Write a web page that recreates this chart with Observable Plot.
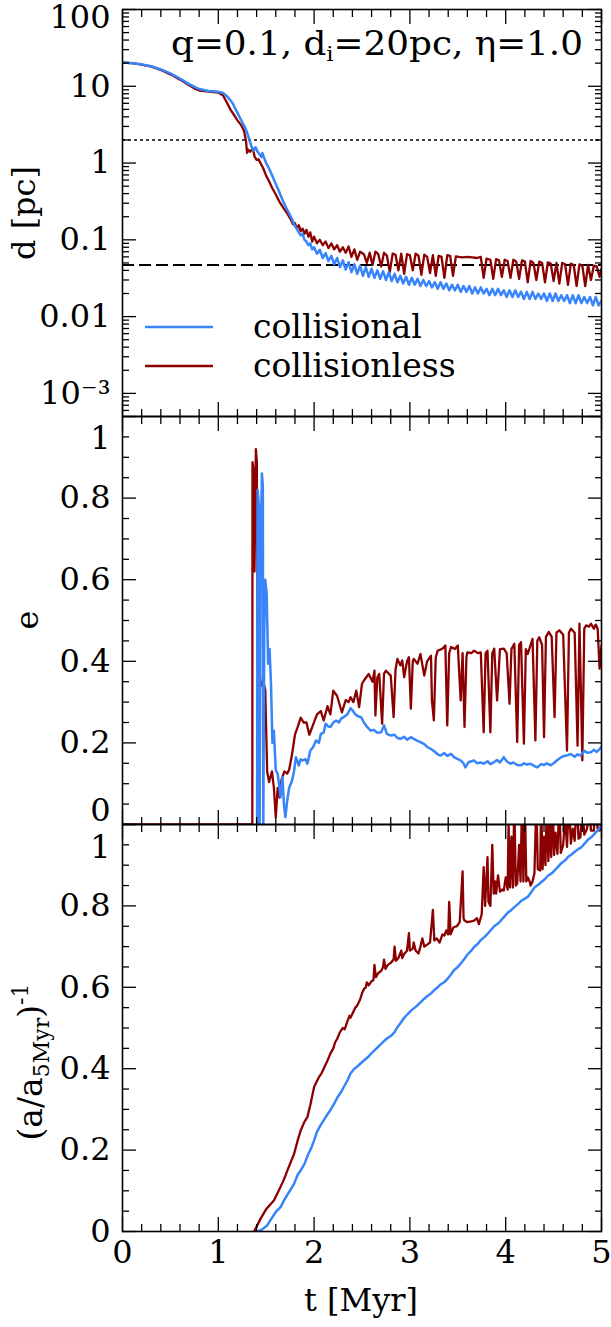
<!DOCTYPE html>
<html><head><meta charset="utf-8">
<script src="https://cdn.jsdelivr.net/npm/d3@7"></script>
<script src="https://cdn.jsdelivr.net/npm/@observablehq/plot@0.6"></script>
<style>
body{margin:0;background:#fff;}
#chart{position:relative;width:611px;height:1327px;font-family:"DejaVu Serif",serif;}
#chart svg{position:absolute;left:0;overflow:visible;}
</style></head><body><div id="chart"></div>
<script>
// ---------- data ----------
const seriesNames = ["collisional", "collisionless"];
const seriesColors = ["#3784fb", "#8b0000"];
const titleParts = ["q=0.1, d", "i", "=20pc, η=1.0"];
const xTickValues = [0, 1, 2, 3, 4, 5];
const xTickLabels = ["0", "1", "2", "3", "4", "5"];
const dTickValues = [0.001, 0.01, 0.1, 1, 10, 100];
const dTickLabels = ["10⁻³", "0.01", "0.1", "1", "10", "100"];
const linTickValues = [0, 0.2, 0.4, 0.6, 0.8, 1];
const linTickLabels = ["0", "0.2", "0.4", "0.6", "0.8", "1"];
const refLevels = [2.0, 0.047]; // dotted, dashed

// d [pc] vs t
const dColl = [[0,20.4],[0.1,20.0],[0.2,19.3],[0.3,18.2],[0.4,16.6],[0.5,14.7],[0.6,12.6],[0.7,10.6],[0.8,9.2],[0.9,8.7],[1.0,8.5],[1.05,8.2],[1.1,7.2],[1.15,6.0],[1.2,4.5],[1.25,3.4],[1.28,2.9],[1.31,2.3],[1.33,1.9],[1.35,1.6],[1.37,1.45],[1.39,1.6],[1.41,1.4],[1.43,1.3],[1.45,1.2],[1.46,1.35],[1.48,1.15],[1.50,1.0],[1.53,0.85],[1.56,0.7],[1.59,0.57],[1.62,0.47],[1.65,0.38],[1.68,0.31],[1.71,0.26],[1.74,0.22],[1.77,0.185],[1.80,0.15],[1.82,0.14],[1.84,0.125],[1.86,0.115],[1.88,0.12],[1.90,0.1],[1.92,0.095],[1.94,0.085],[1.96,0.09],[1.98,0.075],[2.00,0.08],[2.03,0.066],[2.06,0.074],[2.09,0.058],[2.12,0.067],[2.15,0.053],[2.18,0.062],[2.21,0.048],[2.24,0.058],[2.27,0.044],[2.30,0.054],[2.33,0.041],[2.36,0.051],[2.39,0.038],[2.42,0.048],[2.45,0.036],[2.48,0.046],[2.51,0.034],[2.54,0.044],[2.57,0.033],[2.60,0.042],[2.63,0.032],[2.66,0.04],[2.69,0.031],[2.72,0.039],[2.75,0.030],[2.78,0.038],[2.81,0.029],[2.84,0.036],[2.87,0.028],[2.90,0.034],[2.93,0.027],[2.96,0.033],[2.99,0.026],[3.02,0.032],[3.05,0.026],[3.08,0.031],[3.11,0.025],[3.14,0.030],[3.17,0.025],[3.20,0.029],[3.23,0.024],[3.26,0.028],[3.29,0.023],[3.32,0.028],[3.35,0.023],[3.38,0.027],[3.41,0.022],[3.44,0.026],[3.47,0.022],[3.50,0.026],[3.53,0.021],[3.56,0.025],[3.59,0.021],[3.62,0.025],[3.65,0.020],[3.68,0.024],[3.71,0.020],[3.74,0.024],[3.77,0.020],[3.80,0.023],[3.83,0.019],[3.86,0.023],[3.89,0.019],[3.92,0.023],[3.95,0.019],[3.98,0.022],[4.01,0.018],[4.04,0.022],[4.07,0.018],[4.10,0.022],[4.13,0.018],[4.16,0.021],[4.19,0.017],[4.22,0.021],[4.25,0.017],[4.28,0.021],[4.31,0.017],[4.34,0.020],[4.37,0.017],[4.40,0.020],[4.43,0.016],[4.46,0.020],[4.49,0.016],[4.52,0.020],[4.55,0.016],[4.58,0.019],[4.61,0.016],[4.64,0.019],[4.67,0.015],[4.70,0.019],[4.73,0.015],[4.76,0.019],[4.79,0.015],[4.82,0.018],[4.85,0.015],[4.88,0.018],[4.91,0.014],[4.94,0.018],[4.97,0.014],[5.00,0.016]];
const dCless = [[0,20.4],[0.1,20.0],[0.2,19.2],[0.3,18.0],[0.4,16.3],[0.5,14.3],[0.6,12.2],[0.7,10.2],[0.75,9.4],[0.8,8.8],[0.9,8.5],[1.0,8.3],[1.05,7.6],[1.1,5.8],[1.13,4.9],[1.16,4.3],[1.2,3.6],[1.24,3.1],[1.27,2.6],[1.29,1.9],[1.30,1.36],[1.31,1.5],[1.33,1.4],[1.36,1.55],[1.38,1.2],[1.40,1.1],[1.42,1.12],[1.44,1.0],[1.47,0.85],[1.50,0.68],[1.53,0.58],[1.56,0.48],[1.60,0.39],[1.64,0.31],[1.68,0.26],[1.72,0.22],[1.76,0.18],[1.78,0.16],[1.80,0.165],[1.82,0.14],[1.84,0.155],[1.86,0.13],[1.88,0.14],[1.90,0.12],[1.92,0.135],[1.94,0.11],[1.96,0.125],[1.98,0.095],[2.00,0.11],[2.03,0.09],[2.06,0.10],[2.09,0.085],[2.12,0.095],[2.15,0.078],[2.18,0.09],[2.21,0.075],[2.24,0.085],[2.27,0.07],[2.30,0.08],[2.33,0.068],[2.36,0.082],[2.39,0.06],[2.42,0.075],[2.45,0.055],[2.48,0.07],[2.52,0.065],[2.55,0.05],[2.58,0.068],[2.61,0.047],[2.64,0.07],[2.67,0.065],[2.70,0.045],[2.73,0.068],[2.76,0.062],[2.79,0.038],[2.82,0.066],[2.85,0.064],[2.88,0.04],[2.91,0.066],[2.94,0.036],[2.97,0.065],[3.00,0.063],[3.03,0.04],[3.06,0.066],[3.09,0.062],[3.12,0.035],[3.15,0.064],[3.18,0.06],[3.21,0.037],[3.24,0.063],[3.27,0.034],[3.30,0.062],[3.33,0.06],[3.36,0.032],[3.39,0.063],[3.42,0.062],[3.45,0.034],[3.48,0.061],[3.51,0.06],[3.55,0.059],[3.60,0.06],[3.65,0.059],[3.70,0.058],[3.74,0.06],[3.77,0.032],[3.80,0.057],[3.84,0.055],[3.87,0.031],[3.90,0.056],[3.93,0.054],[3.96,0.033],[3.99,0.055],[4.02,0.053],[4.05,0.032],[4.08,0.055],[4.11,0.052],[4.14,0.031],[4.17,0.054],[4.20,0.052],[4.23,0.028],[4.26,0.053],[4.29,0.05],[4.32,0.03],[4.35,0.052],[4.38,0.05],[4.41,0.028],[4.44,0.051],[4.47,0.049],[4.50,0.029],[4.53,0.05],[4.56,0.027],[4.59,0.05],[4.62,0.048],[4.65,0.026],[4.68,0.049],[4.71,0.047],[4.74,0.025],[4.77,0.048],[4.80,0.046],[4.83,0.025],[4.86,0.047],[4.89,0.03],[4.92,0.046],[4.95,0.045],[4.98,0.033],[5.00,0.042]];

// e vs t
const eColl = [[1.405,0],[1.41,0.82],[1.425,0.78],[1.432,0.0],[1.44,0.6],[1.455,0.86],[1.465,0.83],[1.47,0.0],[1.48,0.48],[1.49,0.6],[1.505,0.566],[1.52,0.394],[1.535,0.43],[1.55,0.345],[1.565,0.2],[1.58,0.23],[1.60,0.133],[1.62,0.124],[1.65,0.067],[1.67,0.116],[1.685,0.05],[1.70,0.018],[1.72,0.06],[1.74,0.09],[1.77,0.108],[1.79,0.13],[1.81,0.165],[1.84,0.145],[1.86,0.16],[1.88,0.157],[1.91,0.16],[1.93,0.149],[1.96,0.181],[1.99,0.19],[2.02,0.206],[2.05,0.20],[2.07,0.222],[2.10,0.225],[2.12,0.247],[2.15,0.24],[2.17,0.239],[2.20,0.25],[2.23,0.255],[2.26,0.25],[2.28,0.259],[2.32,0.265],[2.35,0.271],[2.38,0.285],[2.40,0.28],[2.43,0.27],[2.46,0.265],[2.49,0.263],[2.52,0.25],[2.55,0.24],[2.59,0.23],[2.62,0.232],[2.66,0.225],[2.70,0.226],[2.73,0.243],[2.76,0.222],[2.80,0.218],[2.84,0.22],[2.87,0.212],[2.90,0.21],[2.94,0.215],[2.97,0.208],[3.01,0.214],[3.04,0.21],[3.08,0.205],[3.11,0.202],[3.15,0.197],[3.18,0.19],[3.22,0.185],[3.25,0.18],[3.29,0.172],[3.32,0.169],[3.36,0.175],[3.39,0.168],[3.43,0.173],[3.46,0.165],[3.50,0.16],[3.53,0.157],[3.56,0.15],[3.58,0.14],[3.61,0.152],[3.64,0.155],[3.67,0.157],[3.70,0.15],[3.74,0.152],[3.77,0.149],[3.81,0.155],[3.84,0.148],[3.88,0.153],[3.91,0.158],[3.94,0.152],[3.98,0.165],[4.01,0.155],[4.05,0.149],[4.08,0.152],[4.12,0.146],[4.16,0.145],[4.19,0.15],[4.22,0.147],[4.26,0.149],[4.30,0.143],[4.33,0.14],[4.37,0.148],[4.40,0.146],[4.43,0.15],[4.47,0.145],[4.50,0.15],[4.54,0.158],[4.58,0.165],[4.61,0.168],[4.65,0.17],[4.68,0.173],[4.72,0.166],[4.75,0.172],[4.78,0.169],[4.82,0.181],[4.85,0.176],[4.89,0.177],[4.92,0.183],[4.95,0.178],[4.98,0.185],[5.0,0.19]];
const eCless = [[0,0],[1.355,0],[1.357,0.888],[1.368,0.87],[1.378,0.62],[1.392,0.92],[1.402,0.89],[1.412,0.40],[1.425,0.58],[1.435,0.36],[1.45,0.34],[1.47,0.35],[1.49,0.33],[1.51,0.13],[1.53,0.104],[1.56,0.13],[1.58,0.091],[1.60,0.018],[1.62,0.09],[1.64,0.066],[1.66,0.11],[1.69,0.13],[1.72,0.125],[1.74,0.135],[1.77,0.172],[1.80,0.22],[1.83,0.24],[1.86,0.262],[1.89,0.25],[1.92,0.25],[1.95,0.22],[1.99,0.245],[2.03,0.27],[2.07,0.278],[2.10,0.255],[2.14,0.29],[2.17,0.27],[2.20,0.328],[2.24,0.315],[2.29,0.275],[2.33,0.305],[2.36,0.30],[2.38,0.312],[2.41,0.30],[2.44,0.328],[2.47,0.288],[2.50,0.345],[2.52,0.353],[2.57,0.369],[2.61,0.35],[2.63,0.377],[2.64,0.267],[2.66,0.36],[2.68,0.369],[2.71,0.247],[2.73,0.37],[2.75,0.377],[2.80,0.365],[2.83,0.263],[2.85,0.38],[2.87,0.406],[2.90,0.39],[2.92,0.402],[2.94,0.361],[2.97,0.40],[2.99,0.41],[3.01,0.284],[3.03,0.40],[3.04,0.406],[3.08,0.394],[3.11,0.418],[3.15,0.365],[3.18,0.40],[3.22,0.414],[3.23,0.304],[3.25,0.255],[3.27,0.41],[3.29,0.426],[3.34,0.431],[3.37,0.439],[3.39,0.243],[3.41,0.42],[3.43,0.435],[3.47,0.43],[3.50,0.439],[3.53,0.304],[3.55,0.42],[3.57,0.239],[3.59,0.41],[3.60,0.422],[3.64,0.42],[3.67,0.426],[3.71,0.42],[3.74,0.422],[3.77,0.226],[3.79,0.42],[3.81,0.426],[3.84,0.226],[3.86,0.42],[3.88,0.431],[3.91,0.304],[3.94,0.43],[3.98,0.431],[4.01,0.42],[4.04,0.296],[4.06,0.43],[4.09,0.443],[4.12,0.202],[4.14,0.44],[4.16,0.447],[4.19,0.198],[4.21,0.43],[4.23,0.418],[4.26,0.44],[4.28,0.455],[4.31,0.206],[4.33,0.45],[4.35,0.459],[4.38,0.44],[4.40,0.214],[4.42,0.46],[4.45,0.472],[4.48,0.46],[4.51,0.263],[4.53,0.47],[4.56,0.476],[4.60,0.465],[4.64,0.181],[4.66,0.47],[4.68,0.48],[4.72,0.47],[4.75,0.193],[4.77,0.492],[4.80,0.157],[4.82,0.48],[4.84,0.488],[4.87,0.485],[4.89,0.492],[4.92,0.48],[4.94,0.49],[4.96,0.48],[4.98,0.382],[5.0,0.44]];

// (a/a_5Myr)^-1 vs t
const aColl = [[1.41,0],[1.45,0.004],[1.51,0.015],[1.55,0.03],[1.60,0.048],[1.65,0.06],[1.69,0.078],[1.72,0.09],[1.76,0.105],[1.79,0.117],[1.83,0.14],[1.86,0.15],[1.90,0.166],[1.93,0.185],[1.97,0.205],[2.00,0.224],[2.03,0.245],[2.07,0.262],[2.10,0.273],[2.14,0.288],[2.17,0.298],[2.21,0.314],[2.24,0.328],[2.28,0.342],[2.31,0.355],[2.35,0.372],[2.38,0.388],[2.42,0.40],[2.45,0.405],[2.49,0.414],[2.52,0.42],[2.56,0.428],[2.59,0.436],[2.63,0.445],[2.66,0.452],[2.70,0.461],[2.73,0.468],[2.77,0.476],[2.80,0.48],[2.84,0.49],[2.87,0.502],[2.91,0.515],[2.94,0.525],[2.98,0.535],[3.01,0.542],[3.05,0.55],[3.08,0.556],[3.11,0.563],[3.15,0.572],[3.18,0.578],[3.22,0.585],[3.25,0.592],[3.29,0.60],[3.32,0.607],[3.36,0.613],[3.39,0.62],[3.43,0.632],[3.46,0.642],[3.50,0.65],[3.53,0.658],[3.57,0.67],[3.60,0.68],[3.64,0.69],[3.67,0.699],[3.71,0.707],[3.74,0.716],[3.78,0.724],[3.81,0.731],[3.85,0.742],[3.88,0.75],[3.92,0.757],[3.95,0.764],[3.99,0.775],[4.02,0.783],[4.06,0.79],[4.09,0.797],[4.13,0.805],[4.16,0.812],[4.20,0.818],[4.23,0.822],[4.27,0.835],[4.30,0.845],[4.34,0.852],[4.37,0.858],[4.41,0.866],[4.44,0.874],[4.48,0.88],[4.51,0.887],[4.55,0.897],[4.58,0.905],[4.62,0.912],[4.65,0.92],[4.69,0.927],[4.72,0.933],[4.76,0.94],[4.79,0.944],[4.83,0.955],[4.86,0.963],[4.90,0.97],[4.93,0.978],[4.97,0.988],[5.0,0.995]];
const aCless = [[1.374,0],[1.40,0.012],[1.44,0.031],[1.50,0.055],[1.55,0.068],[1.58,0.076],[1.63,0.1],[1.68,0.125],[1.73,0.155],[1.79,0.19],[1.83,0.225],[1.86,0.248],[1.90,0.27],[1.93,0.281],[1.96,0.31],[2.00,0.355],[2.03,0.37],[2.05,0.379],[2.08,0.39],[2.10,0.40],[2.14,0.42],[2.17,0.437],[2.20,0.45],[2.22,0.465],[2.24,0.473],[2.27,0.49],[2.30,0.50],[2.32,0.497],[2.35,0.518],[2.37,0.53],[2.38,0.525],[2.41,0.54],[2.43,0.55],[2.45,0.555],[2.48,0.57],[2.50,0.585],[2.52,0.596],[2.54,0.60],[2.55,0.612],[2.57,0.605],[2.60,0.615],[2.62,0.618],[2.63,0.655],[2.645,0.625],[2.67,0.635],[2.70,0.64],[2.72,0.65],[2.73,0.668],[2.745,0.645],[2.77,0.655],[2.80,0.66],[2.83,0.668],[2.84,0.70],[2.855,0.665],[2.88,0.672],[2.91,0.69],[2.92,0.672],[2.94,0.682],[2.97,0.69],[2.99,0.733],[3.00,0.69],[3.03,0.695],[3.04,0.71],[3.06,0.69],[3.09,0.683],[3.11,0.70],[3.13,0.72],[3.15,0.70],[3.18,0.705],[3.21,0.71],[3.24,0.79],[3.255,0.715],[3.28,0.72],[3.31,0.71],[3.34,0.73],[3.36,0.727],[3.38,0.74],[3.40,0.73],[3.41,0.81],[3.425,0.73],[3.45,0.745],[3.46,0.748],[3.49,0.75],[3.52,0.76],[3.55,0.885],[3.56,0.77],[3.57,0.764],[3.60,0.76],[3.64,0.762],[3.67,0.764],[3.70,0.77],[3.72,0.755],[3.75,0.78],[3.77,0.895],[3.785,0.80],[3.81,0.92],[3.82,0.81],[3.84,0.80],[3.86,0.95],[3.875,0.83],[3.89,0.86],[3.90,0.83],[3.92,0.875],[3.94,0.835],[3.96,0.84],[3.98,0.838],[4.00,0.87],[4.02,0.84],[4.03,1.0],[4.045,0.845],[4.06,0.97],[4.075,0.845],[4.09,1.06],[4.105,0.85],[4.12,0.855],[4.14,0.95],[4.155,0.86],[4.17,1.06],[4.185,0.86],[4.20,1.06],[4.215,0.86],[4.23,0.87],[4.25,0.86],[4.26,0.85],[4.28,0.86],[4.30,0.88],[4.32,1.06],[4.335,0.89],[4.36,0.887],[4.37,1.06],[4.385,0.89],[4.40,0.97],[4.415,0.9],[4.43,1.06],[4.445,0.91],[4.46,1.0],[4.475,0.92],[4.49,1.06],[4.505,0.925],[4.52,0.98],[4.54,0.928],[4.56,1.06],[4.575,0.93],[4.60,0.95],[4.62,1.02],[4.64,0.945],[4.66,1.06],[4.68,0.953],[4.70,0.99],[4.72,0.96],[4.74,1.06],[4.76,0.965],[4.78,0.969],[4.80,1.06],[4.82,0.975],[4.85,0.99],[4.87,1.06],[4.89,0.985],[4.92,0.985],[4.94,1.06],[4.96,0.99],[4.98,0.985],[5.0,1.0]];

// ---------- layout ----------
const FONT = "DejaVu Serif";
const W = 611, ML = 122, MR = 10;
const xMinor = d3.range(0, 5.0001, 0.2).filter(v => Math.abs(v - Math.round(v)) > 1e-6);
const logMinor = [];
for (const p of [1e-4, 1e-3, 1e-2, 1e-1, 1, 10]) for (let m = 2; m <= 9; m++) { const v = p * m; if (v > 5e-4 && v < 100) logMinor.push(v); }
const linMinor = d3.range(0, 1.0001, 0.05).filter(v => Math.abs(v * 5 - Math.round(v * 5)) > 1e-6);

const chart = document.getElementById("chart");

function lineMarks(coll, cless) {
  return [
    Plot.line(cless, {x: d => d[0], y: d => d[1], stroke: seriesColors[1], strokeWidth: 2.3, clip: true}),
    Plot.line(coll, {x: d => d[0], y: d => d[1], stroke: seriesColors[0], strokeWidth: 2.5, clip: true})
  ];
}

function tickMarks(yMajor, yMinor) {
  const o = {tickFormat: () => "", label: null, strokeWidth: 1.3, stroke: "black"};
  return [
    Plot.axisX(xTickValues, {...o, anchor: "bottom", tickSize: -14}),
    Plot.axisX(xMinor, {...o, anchor: "bottom", tickSize: -7}),
    Plot.axisX(xTickValues, {...o, anchor: "top", tickSize: -14}),
    Plot.axisX(xMinor, {...o, anchor: "top", tickSize: -7}),
    Plot.axisY(yMajor, {...o, anchor: "left", tickSize: -14}),
    Plot.axisY(yMinor, {...o, anchor: "left", tickSize: -7}),
    Plot.axisY(yMajor, {...o, anchor: "right", tickSize: -14}),
    Plot.axisY(yMinor, {...o, anchor: "right", tickSize: -7})
  ];
}

function edgeLabel(value, text, dy) {
  return Plot.text([{v: value, s: text}], {y: "v", text: "s", frameAnchor: "left", textAnchor: "end", dx: -12, dy, fontSize: 32, fontFamily: FONT});
}

function addPlot(top, opts) {
  const svg = Plot.plot({
    width: W, marginLeft: ML, marginRight: MR,
    style: {fontFamily: FONT, fontSize: "32px", background: "transparent", overflow: "visible", color: "black"},
    x: {domain: [0, 5]},
    ...opts
  });
  svg.style.top = top + "px";
  chart.appendChild(svg);
  return svg;
}

// Panel 1: d [pc] (log)
addPlot(0, {
  height: 426, marginTop: 9, marginBottom: 10,
  y: {type: "log", domain: [5e-4, 100]},
  marks: [
    Plot.ruleY([refLevels[0]], {stroke: "black", strokeWidth: 1.6, strokeDasharray: "3,3"}),
    Plot.ruleY([refLevels[1]], {stroke: "black", strokeWidth: 2, strokeDasharray: "12,5"}),
    ...lineMarks(dColl, dCless),
    ...tickMarks(dTickValues, logMinor),
    Plot.axisY(dTickValues.slice(0, 5), {anchor: "left", tickSize: 0, tickPadding: 12, label: null, tickFormat: d => dTickLabels[dTickValues.indexOf(d)]}),
    edgeLabel(dTickValues[5], dTickLabels[5], 8),
    Plot.frame({stroke: "black", strokeWidth: 1.6})
  ]
});

// Panel 2: e
addPlot(406, {
  height: 428, marginTop: 10, marginBottom: 10,
  y: {domain: [0, 1]},
  marks: [
    ...lineMarks(eColl, eCless),
    ...tickMarks(linTickValues, linMinor),
    Plot.axisY(linTickValues.slice(1, 5), {anchor: "left", tickSize: 0, tickPadding: 12, label: null, tickFormat: d => linTickLabels[linTickValues.indexOf(d)]}),
    edgeLabel(linTickValues[5], linTickLabels[5], 22),
    edgeLabel(linTickValues[0], linTickLabels[0], -14),
    Plot.frame({stroke: "black", strokeWidth: 1.6})
  ]
});

// Panel 3: (a/a5Myr)^-1
addPlot(814, {
  height: 513, marginTop: 10, marginBottom: 96,
  y: {domain: [0, 1]},
  marks: [
    ...lineMarks(aColl, aCless),
    ...tickMarks(linTickValues, linMinor),
    Plot.axisY(linTickValues.slice(1, 5), {anchor: "left", tickSize: 0, tickPadding: 12, label: null, tickFormat: d => linTickLabels[linTickValues.indexOf(d)]}),
    edgeLabel(linTickValues[5], linTickLabels[5], 23),
    edgeLabel(linTickValues[0], linTickLabels[0], 0),
    Plot.axisX(xTickValues, {anchor: "bottom", tickSize: 0, tickPadding: 9, label: null, tickFormat: d => xTickLabels[xTickValues.indexOf(d)]}),
    Plot.frame({stroke: "black", strokeWidth: 1.6})
  ]
});

// ---------- overlay texts: title, legend, axis labels ----------
const ov = d3.select(chart).append("svg")
  .attr("width", W).attr("height", 1327)
  .style("top", "0px")
  .attr("font-family", FONT).attr("fill", "black");

const title = ov.append("text").attr("x", 583).attr("y", 55).attr("text-anchor", "end").attr("font-size", 33)
  .attr("textLength", 412).attr("lengthAdjust", "spacingAndGlyphs");
title.append("tspan").text(titleParts[0]);
title.append("tspan").attr("font-size", 21).attr("dy", 6).text(titleParts[1]);
title.append("tspan").attr("dy", -6).text(titleParts[2]);

seriesNames.forEach((name, i) => {
  const y = [327, 366][i];
  ov.append("line").attr("x1", 145).attr("x2", 213).attr("y1", y).attr("y2", y)
    .attr("stroke", seriesColors[i]).attr("stroke-width", 2.3);
  ov.append("text").attr("x", 253).attr("y", y + 11).attr("font-size", 33).text(name);
});

ov.append("text").attr("transform", "translate(35,213) rotate(-90)").attr("text-anchor", "middle").attr("font-size", 32).text("d [pc]");
ov.append("text").attr("transform", "translate(38,620) rotate(-90)").attr("text-anchor", "middle").attr("font-size", 32).text("e");
const al = ov.append("text").attr("transform", "translate(42,1062) rotate(-90)").attr("text-anchor", "middle").attr("font-size", 33);
al.append("tspan").text("(a/a");
al.append("tspan").attr("font-size", 22).attr("dy", 7).text("5Myr");
al.append("tspan").attr("dy", -7).text(")");
al.append("tspan").attr("font-size", 22).attr("dy", -14).text("-1");
ov.append("text").attr("x", 361).attr("y", 1311).attr("text-anchor", "middle").attr("font-size", 32).text("t [Myr]");
</script></body></html>
